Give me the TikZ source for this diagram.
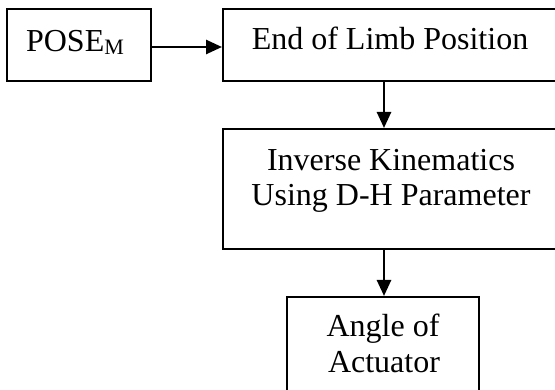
\documentclass[tikz,border=0pt]{standalone}
\usepackage{fontspec}
\setmainfont{Liberation Serif}
\usetikzlibrary{arrows.meta}
\begin{document}
\begin{tikzpicture}[x=1pt,y=-1pt,
  box/.style={draw=black,line width=2pt,rectangle,inner sep=0pt},
  lbl/.style={anchor=base,inner sep=0pt,font=\fontsize{32}{36}\selectfont},
  conn/.style={line width=2.6pt,-{Triangle[length=16pt,width=14pt]}}]
\useasboundingbox (0,0) rectangle (555,390);
\clip (0,0) rectangle (555,390);
\node[box,minimum width=144pt,minimum height=72pt] (b1) at (79,45) {};
\node[box,minimum width=335pt,minimum height=72pt] (b2) at (390.5,45) {};
\node[box,minimum width=335pt,minimum height=120pt] (b3) at (390.5,189) {};
\node[box,minimum width=192pt,minimum height=100pt] (b4) at (383,347) {};
\node[lbl] (t1) at (75,52) {POSE\raisebox{-3pt}{\fontsize{22}{22}\selectfont M}};
\node[lbl] (t2) at (390,50) {End of Limb Position};
\node[lbl] (t3a) at (391,171) {Inverse Kinematics};
\node[lbl] (t3b) at (391,206) {Using D-H Parameter};
\node[lbl] (t4a) at (383,337) {Angle of};
\node[lbl] (t4b) at (384,373) {Actuator};
\coordinate (ax) at (384,0);
\draw[conn] ([yshift=-2pt]b1.east) -- ([yshift=-2pt]b2.west);
\draw[conn] (b2.south -| ax) -- (b3.north -| ax);
\draw[conn] (b3.south -| ax) -- (b4.north -| ax);
\end{tikzpicture}
\end{document}
